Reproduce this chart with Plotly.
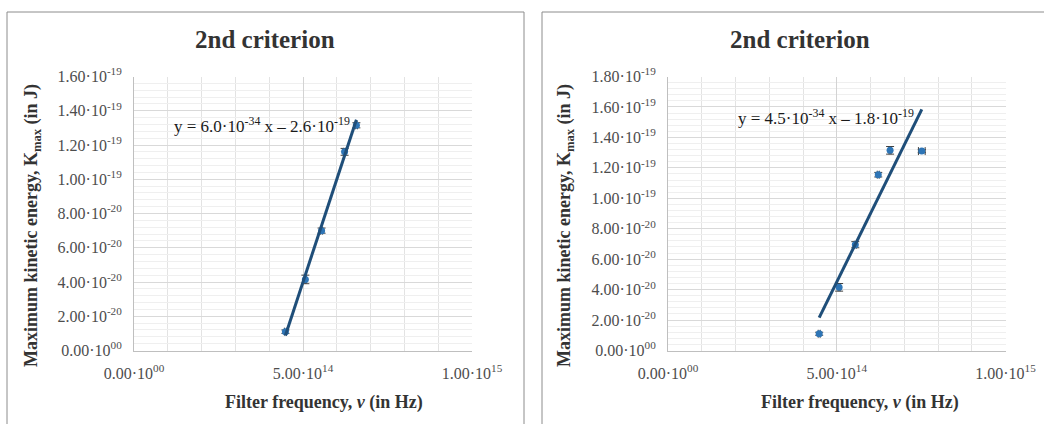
import numpy as np
import plotly.graph_objects as go

# ---- data ----------------------------------------------------------------
# filter frequencies (Hz) and maximum kinetic energies (J)
freq_a = [4.48e14, 5.07e14, 5.55e14, 6.23e14, 6.58e14]
kmax_a = [1.10e-20, 4.15e-20, 7.00e-20, 11.6e-20, 13.15e-20]
kerr_a = [0.10e-20, 0.25e-20, 0.15e-20, 0.20e-20, 0.15e-20]
ferr_a = [0.03e14, 0.03e14, 0.03e14, 0.03e14, 0.03e14]

freq_b = [4.48e14, 5.07e14, 5.55e14, 6.23e14, 6.58e14, 7.52e14]
kmax_b = [1.10e-20, 4.15e-20, 6.95e-20, 11.55e-20, 13.15e-20, 13.1e-20]
kerr_b = [0.10e-20, 0.25e-20, 0.20e-20, 0.15e-20, 0.25e-20, 0.10e-20]
ferr_b = [0.03e14, 0.03e14, 0.03e14, 0.03e14, 0.03e14, 0.10e14]

# linear trendline coefficients (slope, intercept)
fit_a = (6.0e-34, -2.6e-19)
fit_b = (4.5e-34, -1.8e-19)

# ---- tick labels -----------------------------------------------------------
x_tickvals = [0, 5e14, 1e15]
x_ticktext = ["0.00·10<sup>00</sup>", "5.00·10<sup>14</sup>", "1.00·10<sup>15</sup>"]

y_tickvals_a = [0, 2e-20, 4e-20, 6e-20, 8e-20, 1e-19, 1.2e-19, 1.4e-19, 1.6e-19]
y_ticktext_a = ["0.00·10<sup>00</sup>", "2.00·10<sup>-20</sup>", "4.00·10<sup>-20</sup>",
                "6.00·10<sup>-20</sup>", "8.00·10<sup>-20</sup>", "1.00·10<sup>-19</sup>",
                "1.20·10<sup>-19</sup>", "1.40·10<sup>-19</sup>", "1.60·10<sup>-19</sup>"]
y_tickvals_b = y_tickvals_a + [1.8e-19]
y_ticktext_b = y_ticktext_a + ["1.80·10<sup>-19</sup>"]

chart_title = "<b>2nd criterion</b>"
x_title = "<b>Filter frequency, <i>v</i> (in Hz)</b>"
y_title = "<b>Maximum kinetic energy, K<sub>max</sub> (in J)</b>"
eq_a = "y = 6.0·10<sup>-34</sup> x – 2.6·10<sup>-19</sup>"
eq_b = "y = 4.5·10<sup>-34</sup> x – 1.8·10<sup>-19</sup>"

# ---- styling ---------------------------------------------------------------
W, H = 1044, 424
SERIF = "Liberation Serif"
MARKER = "#2E75B6"
TREND = "#1F4E79"
LABEL = "#4d4d4d"


def px_x(p):
    return p / W


def px_y(p):
    return 1 - p / H


fig = go.Figure()


def add_panel(xs, ys, yerr, xerr, fit, xa, ya):
    fig.add_trace(go.Scatter(
        x=xs, y=ys, mode="markers", xaxis=xa, yaxis=ya,
        marker=dict(color=MARKER, size=7, symbol="circle"),
        error_y=dict(type="data", array=yerr, color="#404040", thickness=1, width=4),
        error_x=dict(type="data", array=xerr, color="#404040", thickness=1, width=4),
        showlegend=False, hoverinfo="skip",
    ))
    slope, intercept = fit
    xl = np.array([min(xs), max(xs)])
    fig.add_trace(go.Scatter(
        x=xl, y=slope * xl + intercept, mode="lines", xaxis=xa, yaxis=ya,
        line=dict(color=TREND, width=3), showlegend=False, hoverinfo="skip",
    ))


add_panel(freq_a, kmax_a, kerr_a, ferr_a, fit_a, "x", "y")
add_panel(freq_b, kmax_b, kerr_b, ferr_b, fit_b, "x2", "y2")

tick_font = dict(family=SERIF, size=16, color=LABEL)
ydom = [px_y(350.5), px_y(76.5)]


def xaxis(domain, anchor):
    return dict(
        domain=domain, anchor=anchor, range=[0, 1e15], automargin=False,
        tickmode="array", tickvals=x_tickvals, ticktext=x_ticktext,
        tickfont=tick_font, ticks="", ticklabelstandoff=8,
        showgrid=True, gridcolor="#d3d3d3", gridwidth=1,
        minor=dict(tick0=0, dtick=1e14, showgrid=True, gridcolor="#e3e3e3", gridwidth=1),
        showline=True, linecolor="#bfbfbf", linewidth=1,
        zeroline=False, fixedrange=True,
    )


def yaxis(anchor, top, tv, tt):
    return dict(
        domain=ydom, anchor=anchor, range=[0, top], automargin=False,
        tickmode="array", tickvals=tv, ticktext=tt,
        tickfont=tick_font, ticks="", ticklabelstandoff=8,
        showgrid=True, gridcolor="#d9d9d9", gridwidth=1,
        minor=dict(tick0=0, dtick=4e-21, showgrid=True, gridcolor="#efefef", gridwidth=1),
        showline=True, linecolor="#bfbfbf", linewidth=1,
        zeroline=False, fixedrange=True,
    )


fig.update_layout(
    width=W, height=H,
    margin=dict(l=0, r=0, t=0, b=0, autoexpand=False),
    paper_bgcolor="white", plot_bgcolor="white",
    xaxis=xaxis([px_x(134), px_x(472)], "y"),
    yaxis=yaxis("x", 1.6e-19, y_tickvals_a, y_ticktext_a),
    xaxis2=xaxis([px_x(668), px_x(1005.5)], "y2"),
    yaxis2=yaxis("x2", 1.8e-19, y_tickvals_b, y_ticktext_b),
)

# panel frames
for x0, x1 in [(7, 524), (542, 1060)]:
    fig.add_shape(type="rect", xref="paper", yref="paper",
                  x0=px_x(x0), x1=px_x(x1), y0=px_y(440), y1=px_y(12),
                  line=dict(color="#8c8c8c", width=1), fillcolor="rgba(0,0,0,0)", layer="below")

title_font = dict(family=SERIF, size=25, color="#333333")
axis_font = dict(family=SERIF, size=18, color="#333333")
eq_font = dict(family=SERIF, size=17, color="#1a1a1a")

annotations = [
    # chart titles
    dict(text=chart_title, x=px_x(265), y=px_y(40), font=title_font),
    dict(text=chart_title, x=px_x(800), y=px_y(40), font=title_font),
    # x-axis titles
    dict(text=x_title, x=px_x(324), y=px_y(402), font=axis_font),
    dict(text=x_title, x=px_x(860), y=px_y(402), font=axis_font),
    # y-axis titles
    dict(text=y_title, x=px_x(32), y=px_y(226), font=axis_font, textangle=-90),
    dict(text=y_title, x=px_x(565), y=px_y(226), font=axis_font, textangle=-90),
    # trendline equations
    dict(text=eq_a, x=px_x(172), y=px_y(125), font=eq_font, xanchor="left"),
    dict(text=eq_b, x=px_x(736), y=px_y(117), font=eq_font, xanchor="left"),
]
for a in annotations:
    a.setdefault("xanchor", "center")
    fig.add_annotation(xref="paper", yref="paper", yanchor="middle",
                       showarrow=False, **a)

fig.write_html("out.html")
